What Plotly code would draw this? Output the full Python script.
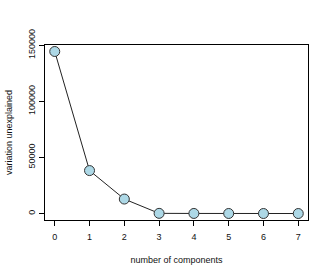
import plotly.graph_objects as go

components = [0, 1, 2, 3, 4, 5, 6, 7]
variation_unexplained = [144500, 38300, 12900, 150, 60, 30, 10, 0]
x_ticks = [0, 1, 2, 3, 4, 5, 6, 7]
y_ticks = [0, 50000, 100000, 150000]

fig = go.Figure()
fig.add_trace(go.Scatter(
    x=components, y=variation_unexplained, mode="lines+markers",
    line=dict(color="#222222", width=1),
    marker=dict(size=10, color="#ADD8E6", line=dict(color="#333333", width=1)),
    showlegend=False, cliponaxis=False,
))

font = dict(family="Liberation Sans, Arial, sans-serif", size=9, color="#111111")
fig.update_layout(
    width=332, height=277,
    margin=dict(l=45, r=24, t=45, b=57),
    paper_bgcolor="white", plot_bgcolor="white",
    font=font,
)
fig.update_xaxes(
    range=[-0.28, 7.28], tickvals=x_ticks, ticktext=[str(v) for v in x_ticks],
    showgrid=False, zeroline=False, showline=True, mirror=True, automargin=False,
    linecolor="black", linewidth=1, ticks="outside", ticklen=5, tickcolor="black",
    ticklabelstandoff=3,
    title=dict(text="number of components", font=font, standoff=15),
)
fig.update_yaxes(
    range=[-5780, 150280], tickvals=y_ticks, ticktext=[str(v) for v in y_ticks],
    tickangle=-90, automargin=False,
    showgrid=False, zeroline=False, showline=True, mirror=True,
    linecolor="black", linewidth=1, ticks="outside", ticklen=5, tickcolor="black",
    title=dict(text="variation unexplained", font=font, standoff=13),
)
fig.write_html("out.html", config={"displayModeBar": False},
               post_script="document.body.style.margin='0';")
